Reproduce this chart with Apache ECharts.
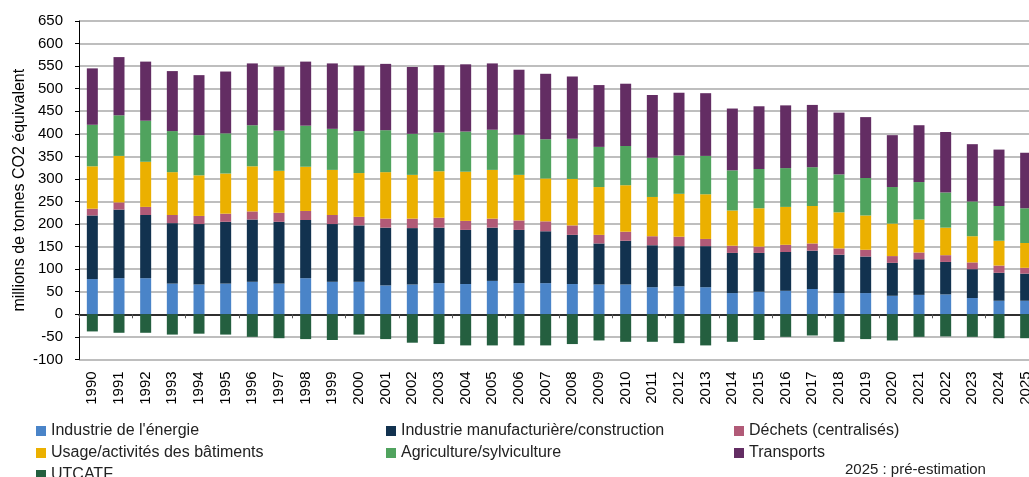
<!DOCTYPE html>
<html>
<head>
<meta charset="utf-8">
<script src="https://cdn.jsdelivr.net/npm/echarts@6/dist/echarts.min.js"></script>
<style>
  html, body { margin: 0; padding: 0; background: #fff; }
  #main { width: 1029px; height: 477px; }
</style>
</head>
<body>
<div id="main"></div>
<script>
// annees
const years = [];
for (let y = 1990; y <= 2025; y++) years.push(String(y));

// valeurs (Mt CO2e)
const energie = [78, 80, 80, 68, 66, 68, 72, 68, 80, 72,
  72, 64, 66, 69, 67, 74, 69, 69, 67, 66,
  66, 60, 62, 60, 47, 50, 52, 56, 47, 47,
  41, 43, 44, 36, 30, 30];
const manuf = [141, 152, 140, 134, 134, 137, 138, 137, 129, 128,
  125, 128, 125, 123, 120, 118, 118, 115, 109, 91,
  97, 93, 89, 91, 89, 86, 86, 85, 85, 81,
  73, 79, 72, 64, 62, 60];
const dechets = [15, 16, 18, 18, 18, 18, 18, 20, 20, 20,
  19, 20, 21, 22, 20, 20, 21, 22, 21, 19,
  20, 20, 21, 16, 16, 14, 16, 16, 14, 15,
  15, 15, 15, 15, 16, 13];
const batiments = [94, 103, 100, 95, 90, 89, 100, 93, 98, 100,
  97, 103, 97, 103, 109, 108, 101, 95, 103, 106,
  103, 87, 95, 99, 78, 85, 84, 83, 80, 76,
  72, 73, 61, 58, 55, 55];
const agriculture = [92, 90, 91, 91, 89, 89, 91, 89, 91, 91,
  93, 93, 91, 86, 89, 89, 89, 87, 89, 89,
  87, 87, 85, 85, 89, 87, 86, 86, 84, 83,
  81, 83, 78, 77, 77, 77];
const transports = [125, 129, 131, 133, 133, 137, 137, 142, 142, 145,
  145, 147, 148, 149, 149, 147, 144, 145, 138, 137,
  138, 139, 139, 139, 137, 139, 139, 138, 137, 135,
  115, 126, 134, 127, 125, 123];
const utcatf = [-38, -41, -41, -45, -43, -45, -50, -53, -55, -57,
  -45, -55, -63, -66, -69, -69, -69, -69, -66, -58,
  -61, -61, -64, -69, -61, -57, -50, -47, -61, -55,
  -58, -50, -49, -50, -53, -53];

const FONT = 'Liberation Sans, Arial, sans-serif';

const chart = echarts.init(document.getElementById('main'));

function serie(name, data, color) {
  return {
    name: name,
    type: 'bar',
    stack: 'total',
    barWidth: 11,
    data: data,
    itemStyle: { color: color },
    emphasis: { disabled: true }
  };
}

// une legende par bloc, pour garder les colonnes
function legendBloc(left, top, names) {
  return {
    orient: 'vertical',
    left: left,
    top: top,
    icon: 'rect',
    itemWidth: 10,
    itemHeight: 10,
    itemGap: 6,
    padding: 0,
    selectedMode: false,
    data: names,
    textStyle: { fontFamily: FONT, fontSize: 16, color: '#222', lineHeight: 16 }
  };
}

const option = {
  animation: false,
  grid: { left: 79, top: 21, width: 960, height: 338.4, outerBoundsMode: 'none' },
  legend: [
    legendBloc(36, 423, ["Industrie de l'énergie", 'Usage/activités des bâtiments']),
    legendBloc(36, 467, ['UTCATF']),
    legendBloc(386, 423, ['Industrie manufacturière/construction', 'Agriculture/sylviculture']),
    legendBloc(734, 423, ['Déchets (centralisés)', 'Transports'])
  ],
  xAxis: [
    {
      type: 'category',
      data: years,
      position: 'bottom',
      axisLine: { show: false, onZero: false },
      axisTick: { show: false },
      axisLabel: { rotate: 90, fontFamily: FONT, fontSize: 15, color: '#000', margin: 12 }
    },
    {
      type: 'category',
      data: years,
      position: 'bottom',
      axisLine: { onZero: true, lineStyle: { color: '#000', width: 1.5 } },
      axisTick: { show: true, length: 4, lineStyle: { color: '#555' } },
      axisLabel: { show: false }
    }
  ],
  yAxis: {
    type: 'value',
    min: -100,
    max: 650,
    interval: 50,
    name: 'millions de tonnes CO2 équivalent',
    nameLocation: 'middle',
    nameGap: 51,
    nameMoveOverlap: false,
    nameTextStyle: { fontFamily: FONT, fontSize: 16, color: '#000' },
    axisLine: { show: true, lineStyle: { color: '#000', width: 1 } },
    axisTick: { show: true, length: 4, lineStyle: { color: '#000' } },
    axisLabel: { fontFamily: FONT, fontSize: 15, color: '#000', margin: 16 },
    splitLine: { lineStyle: { color: '#a8a8a8', width: 1.5 } }
  },
  graphic: [{
    type: 'text',
    left: 845,
    top: 462,
    style: { text: '2025 : pré-estimation', font: '15px ' + FONT, fill: '#222' }
  }],
  series: [
    serie("Industrie de l'énergie", energie, '#4a84c8'),
    serie('Industrie manufacturière/construction', manuf, '#12324f'),
    serie('Déchets (centralisés)', dechets, '#b15a77'),
    serie('Usage/activités des bâtiments', batiments, '#ebb000'),
    serie('Agriculture/sylviculture', agriculture, '#50a35e'),
    serie('Transports', transports, '#632d63'),
    serie('UTCATF', utcatf, '#245f3f')
  ]
};

chart.setOption(option);
</script>
</body>
</html>
